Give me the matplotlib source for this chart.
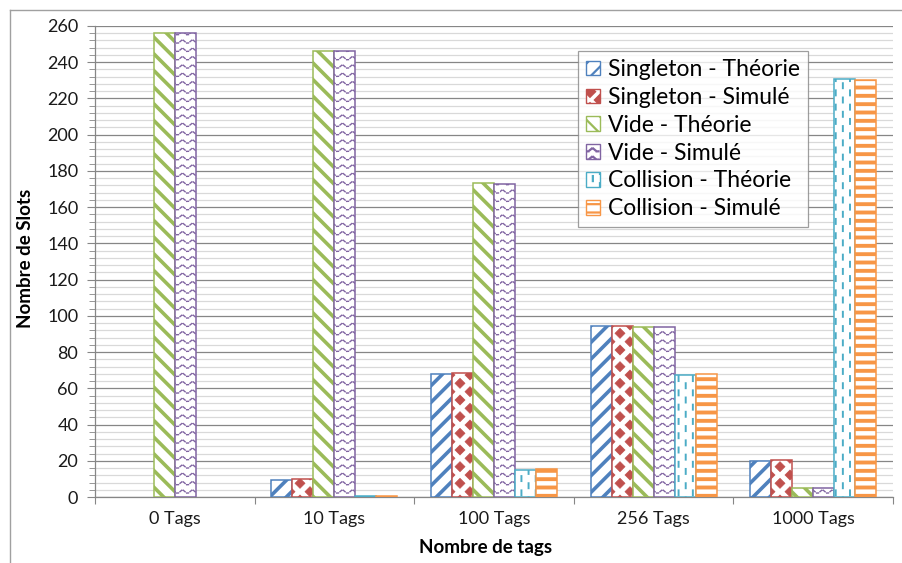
import warnings
warnings.filterwarnings("ignore")
import numpy as np
import matplotlib
matplotlib.use("Agg")
import matplotlib.pyplot as plt
import matplotlib.hatch as mhatch
import matplotlib.patches as mpatches
from matplotlib.path import Path
from matplotlib.lines import Line2D

# ---------------- data ----------------
categories = ["0 Tags", "10 Tags", "100 Tags", "256 Tags", "1000 Tags"]
series_names = ["Singleton - Théorie", "Singleton - Simulé", "Vide - Théorie",
                "Vide - Simulé", "Collision - Théorie", "Collision - Simulé"]
singleton_theorie = [0, 9.6, 67.9, 94.4, 20.1]
singleton_simule = [0, 9.7, 68.2, 94.2, 20.6]
vide_theorie = [256, 246.2, 173.1, 94.0, 5.1]
vide_simule = [256, 246.3, 172.8, 94.1, 5.2]
collision_theorie = [0, 0.3, 15.0, 67.6, 230.8]
collision_simule = [0, 0.4, 15.2, 67.7, 230.3]
y_ticks = list(range(0, 261, 20))

series_values = [singleton_theorie, singleton_simule, vide_theorie,
                 vide_simule, collision_theorie, collision_simule]

# ---------------- custom hatches ----------------
class DiamondHatch(mhatch.HatchPatternBase):
    def __init__(self, hatch, density):
        self.centers = []
        if 'd' in hatch:
            nx, ny = 5, 6
            for i in range(nx + 1):
                for j in range(ny + 1):
                    self.centers.append((i / nx, j / ny))
            for i in range(nx):
                for j in range(ny):
                    self.centers.append(((i + 0.5) / nx, (j + 0.5) / ny))
        self.num_vertices = len(self.centers) * 5

    def set_vertices_and_codes(self, vertices, codes):
        hx, hy = 0.05, 0.05
        k = 0
        for cx, cy in self.centers:
            vertices[k:k + 5] = [(cx, cy - hy), (cx + hx, cy), (cx, cy + hy),
                                 (cx - hx, cy), (cx, cy - hy)]
            codes[k] = Path.MOVETO
            codes[k + 1:k + 4] = Path.LINETO
            codes[k + 4] = Path.CLOSEPOLY
            k += 5


class WaveHatch(mhatch.HatchPatternBase):
    def __init__(self, hatch, density):
        self.segs = []
        if 'w' in hatch:
            nrows, nper = 12, 10
            amp = 0.016
            for j in range(nrows + 1):
                y0 = j / nrows
                for p in range(nper):
                    for q in range(3):
                        xa = (p + q / 3.0) / nper
                        xb = xa + 0.018
                        ya = y0 + amp * np.sin(2 * np.pi * nper * xa)
                        yb = y0 + amp * np.sin(2 * np.pi * nper * xb)
                        self.segs.append(((xa, ya), (xb, yb)))
        self.num_vertices = len(self.segs) * 2

    def set_vertices_and_codes(self, vertices, codes):
        for k, (a, b) in enumerate(self.segs):
            vertices[2 * k] = a
            vertices[2 * k + 1] = b
            codes[2 * k] = Path.MOVETO
            codes[2 * k + 1] = Path.LINETO


class DashHatch(mhatch.HatchPatternBase):
    def __init__(self, hatch, density):
        self.segs = []
        if 'v' in hatch:
            ncol, nrow = 14, 7
            L = 0.05
            for i in range(ncol + 1):
                off = 0.0 if i % 2 == 0 else 0.5
                for j in range(-1, nrow + 1):
                    yc = (j + off) / nrow
                    self.segs.append(((i / ncol, yc - L / 2), (i / ncol, yc + L / 2)))
        self.num_vertices = len(self.segs) * 2

    def set_vertices_and_codes(self, vertices, codes):
        for k, (a, b) in enumerate(self.segs):
            vertices[2 * k] = a
            vertices[2 * k + 1] = b
            codes[2 * k] = Path.MOVETO
            codes[2 * k + 1] = Path.LINETO


mhatch._hatch_types.extend([DiamondHatch, WaveHatch, DashHatch])

# ---------------- style ----------------
colors = ["#4F81BD", "#C0504D", "#9BBB59", "#8064A2", "#4BACC6", "#F79646"]
hatches = ["//", "d", "\\\\", "w", "v", "--"]
hatch_lw = [2.6, 0.5, 2.6, 1.0, 1.4, 2.8]

FONT = ["Lato", "DejaVu Sans"]
plt.rcParams['font.family'] = FONT

fig = plt.figure(figsize=(9.03, 5.63), dpi=100)
ax = fig.add_axes([95 / 903, 66 / 563, 798 / 903, 471 / 563])

n = len(series_values)
w = 1.0 / (n + 1.6)
x = np.arange(len(categories))
for i, vals in enumerate(series_values):
    plt.rcParams['hatch.linewidth'] = hatch_lw[i]
    lws = [1.1 if v > 0 else 0 for v in vals]
    bars = ax.bar(x + (i - (n - 1) / 2) * w, vals, width=w, facecolor="white",
                  edgecolor=colors[i], hatch=hatches[i], linewidth=lws, zorder=3)
    for b in bars:
        if hasattr(b, "set_hatch_linewidth"):
            b.set_hatch_linewidth(hatch_lw[i])

# axes styling
ax.set_xlim(-0.5, len(categories) - 0.5)
ax.set_ylim(0, 260)
ax.set_yticks(y_ticks)
ax.set_yticks(np.arange(0, 261, 4), minor=True)
ax.set_xticks(np.arange(-0.5, len(categories), 1.0))
ax.set_xticklabels([])
ax.set_xticks(x, labels=categories, minor=True)
ax.tick_params(axis='x', which='minor', length=0, pad=10, labelsize=13, labelcolor="#1a1a1a")
ax.tick_params(axis='x', which='major', length=5, color="#868686", direction='out')
ax.tick_params(axis='y', which='major', length=6, color="#868686", pad=6, labelsize=13, labelcolor="#1a1a1a")
ax.tick_params(axis='y', which='minor', length=4.5, color="#868686")
ax.grid(axis='y', which='major', color="#868686", linewidth=0.9)
ax.grid(axis='y', which='minor', color="#D9D9D9", linewidth=0.9)
ax.set_axisbelow(True)
for s in ["top", "right"]:
    ax.spines[s].set_visible(False)
for s in ["left", "bottom"]:
    ax.spines[s].set_color("#868686")
    ax.spines[s].set_linewidth(0.9)

ax.set_ylabel("Nombre de Slots", fontsize=13.5, fontweight='bold')
ax.yaxis.set_label_coords(-0.077, 0.507)
ax.set_xlabel("Nombre de tags", fontsize=13.5, fontweight='bold')
ax.xaxis.set_label_coords(0.489, -0.09)

# legend
handles = []
for i in range(n):
    plt.rcParams['hatch.linewidth'] = min(hatch_lw[i], 1.6)
    p = mpatches.Patch(facecolor="white", edgecolor=colors[i], hatch=hatches[i], linewidth=1.0)
    if hasattr(p, "set_hatch_linewidth"):
        p.set_hatch_linewidth(min(hatch_lw[i], 1.6))
    handles.append(p)
leg = ax.legend(handles, series_names, loc='upper right', bbox_to_anchor=(0.8935, 0.947),
                borderaxespad=0, fontsize=16.5, frameon=True, fancybox=False,
                handlelength=0.6, handleheight=0.6, handletextpad=0.35,
                labelspacing=0.3, borderpad=0.35)
leg.get_frame().set_edgecolor("#868686")
leg.get_frame().set_linewidth(0.9)
leg.set_zorder(5)

# outer chart border
fig.add_artist(Line2D([10 / 903, 10 / 903], [0, 1 - 10 / 563], transform=fig.transFigure,
                      color="#A0A0A0", linewidth=1.0))
fig.add_artist(Line2D([10 / 903, 1], [1 - 10 / 563, 1 - 10 / 563], transform=fig.transFigure,
                      color="#A0A0A0", linewidth=1.0))

fig.savefig("out.png", dpi=100)
